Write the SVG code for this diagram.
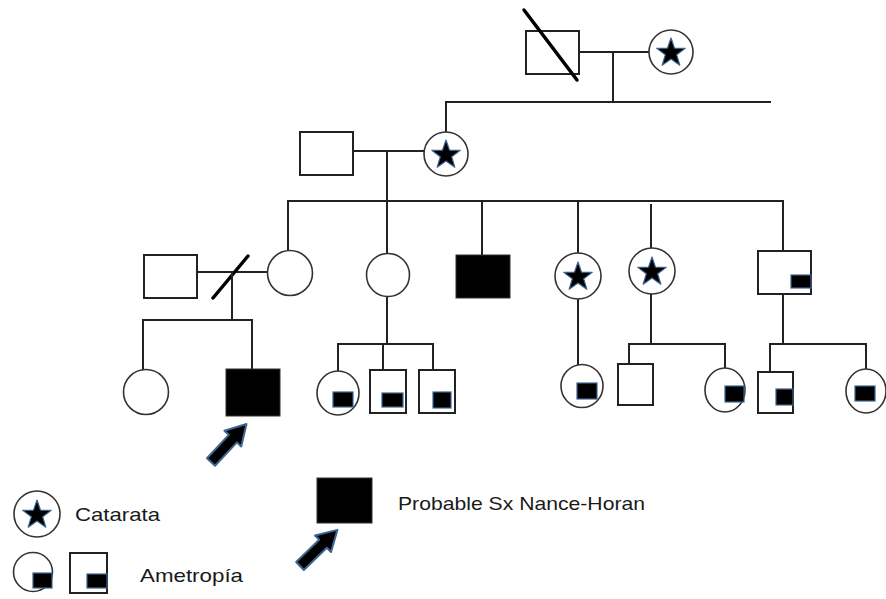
<svg xmlns="http://www.w3.org/2000/svg" width="886" height="599" viewBox="0 0 886 599">
<defs>
<style>
.ln{stroke:#222;stroke-width:2;fill:none;stroke-linecap:square}
.sq{fill:#fff;stroke:#222;stroke-width:2}
.ci{fill:#fff;stroke:#333;stroke-width:1.6}
.fill{fill:#000;stroke:#333;stroke-width:1}
.mk{fill:#000;stroke:#3c6590;stroke-width:1.2}
.star{fill:#000;stroke:#3c6590;stroke-width:1.2;stroke-linejoin:round}
.slash{stroke:#000;stroke-width:3.5;stroke-linecap:round}
.arr{fill:#000;stroke:#3c6590;stroke-width:2;stroke-linejoin:round}
.tx{font-family:"Liberation Sans",Arial,sans-serif;font-size:19px;fill:#1a1a1a}
</style>
<path id="star" d="M0,-15 L3.5,-4.85 L14.27,-4.64 L5.7,1.85 L8.82,12.14 L0,6 L-8.82,12.14 L-5.7,1.85 L-14.27,-4.64 L-3.5,-4.85 Z"/>
<path id="arrow" d="M0,-5.5 L32,-5.5 L32,-11.5 L52,0 L32,11.5 L32,5.5 L0,5.5 Z"/>
</defs>
<rect width="886" height="599" fill="#fff"/>

<g id="connectors">
<line class="ln" x1="579" y1="52" x2="649" y2="52"/>
<line class="ln" x1="613" y1="52" x2="613" y2="102"/>
<line class="ln" x1="447" y1="102" x2="770" y2="102"/>
<line class="ln" x1="446" y1="102" x2="446" y2="132"/>
<line class="ln" x1="353" y1="151" x2="424" y2="151"/>
<line class="ln" x1="387" y1="151" x2="387" y2="201"/>
<line class="ln" x1="288" y1="201" x2="783" y2="201"/>
<line class="ln" x1="288" y1="201" x2="288" y2="251"/>
<line class="ln" x1="387" y1="201" x2="387" y2="253"/>
<line class="ln" x1="482" y1="201" x2="482" y2="255"/>
<line class="ln" x1="578" y1="201" x2="578" y2="253"/>
<line class="ln" x1="651" y1="205" x2="651" y2="248"/>
<line class="ln" x1="783" y1="201" x2="783" y2="251"/>
<line class="ln" x1="197" y1="272" x2="268" y2="272"/>
<line class="slash" x1="213" y1="298" x2="248" y2="256"/>
<line class="ln" x1="232" y1="272" x2="232" y2="320"/>
<line class="ln" x1="143" y1="320" x2="252" y2="320"/>
<line class="ln" x1="143" y1="320" x2="143" y2="370"/>
<line class="ln" x1="252" y1="320" x2="252" y2="369"/>
<line class="ln" x1="387" y1="297" x2="387" y2="344"/>
<line class="ln" x1="338" y1="344" x2="433" y2="344"/>
<line class="ln" x1="338" y1="344" x2="338" y2="371"/>
<line class="ln" x1="383" y1="344" x2="383" y2="370"/>
<line class="ln" x1="433" y1="344" x2="433" y2="370"/>
<line class="ln" x1="578" y1="299" x2="578" y2="365"/>
<line class="ln" x1="651" y1="294" x2="651" y2="344"/>
<line class="ln" x1="629" y1="344" x2="725" y2="344"/>
<line class="ln" x1="629" y1="344" x2="629" y2="364"/>
<line class="ln" x1="725" y1="344" x2="725" y2="368"/>
<line class="ln" x1="783" y1="294" x2="783" y2="344"/>
<line class="ln" x1="770" y1="344" x2="866" y2="344"/>
<line class="ln" x1="770" y1="344" x2="770" y2="372"/>
<line class="ln" x1="866" y1="344" x2="866" y2="369"/>
</g>

<g id="I1">
<rect class="sq" x="526" y="31" width="53" height="43"/>
<line class="slash" x1="524" y1="10" x2="577" y2="80"/>
</g>
<g id="I2">
<circle class="ci" cx="671" cy="52" r="22"/>
<use href="#star" class="star" transform="translate(671,53)"/>
</g>

<g id="II1"><rect class="sq" x="300" y="132" width="53" height="43"/></g>
<g id="II2">
<circle class="ci" cx="446" cy="154" r="22"/>
<use href="#star" class="star" transform="translate(446,155)"/>
</g>

<g id="III-spouse"><rect class="sq" x="144" y="255" width="53" height="43"/></g>
<g id="III1"><circle class="ci" cx="290" cy="273" r="22.5"/></g>
<g id="III2"><circle class="ci" cx="388" cy="275" r="21.5"/></g>
<g id="III3"><rect class="fill" x="456" y="255" width="54" height="43"/></g>
<g id="III4">
<circle class="ci" cx="578" cy="276" r="23"/>
<use href="#star" class="star" transform="translate(578,277)"/>
</g>
<g id="III5">
<circle class="ci" cx="652" cy="271" r="23"/>
<use href="#star" class="star" transform="translate(652,272)"/>
</g>
<g id="III6">
<rect class="sq" x="758" y="251" width="53" height="43"/>
<rect class="mk" x="791" y="275" width="20" height="13"/>
</g>

<g id="IV1"><circle class="ci" cx="146" cy="392" r="22.5"/></g>
<g id="IV2">
<rect class="fill" x="226" y="369" width="54" height="47"/>
<use href="#arrow" class="arr" transform="translate(211,462) rotate(-47)"/>
</g>
<g id="IV3">
<ellipse class="ci" cx="338" cy="393" rx="21" ry="22"/>
<rect class="mk" x="333" y="392" width="20" height="15"/>
</g>
<g id="IV4">
<rect class="sq" x="370" y="370" width="36" height="43"/>
<rect class="mk" x="382" y="393" width="21" height="14"/>
</g>
<g id="IV5">
<rect class="sq" x="419" y="370" width="36" height="43"/>
<rect class="mk" x="433" y="392" width="18" height="16"/>
</g>
<g id="IV6">
<ellipse class="ci" cx="582" cy="386" rx="21" ry="21.5"/>
<rect class="mk" x="577" y="383" width="20" height="16"/>
</g>
<g id="IV7"><rect class="sq" x="618" y="364" width="35" height="41"/></g>
<g id="IV8">
<ellipse class="ci" cx="725" cy="390" rx="20" ry="22"/>
<rect class="mk" x="725" y="386" width="19" height="16"/>
</g>
<g id="IV9">
<rect class="sq" x="758" y="372" width="35" height="41"/>
<rect class="mk" x="776" y="389" width="17" height="16"/>
</g>
<g id="IV10">
<ellipse class="ci" cx="866" cy="391" rx="20" ry="22"/>
<rect class="mk" x="855" y="386" width="20" height="15"/>
</g>

<g id="legend">
<circle class="ci" cx="37" cy="514" r="23"/>
<use href="#star" class="star" transform="translate(37,515)"/>
<text class="tx" x="75" y="521" textLength="85" lengthAdjust="spacingAndGlyphs">Catarata</text>
<circle class="ci" cx="33" cy="572" r="19.5"/>
<rect class="mk" x="33" y="573" width="19" height="15"/>
<rect class="sq" x="70" y="553" width="37" height="40"/>
<rect class="mk" x="87" y="574" width="20" height="14"/>
<text class="tx" x="140" y="582" textLength="103" lengthAdjust="spacingAndGlyphs">Ametropía</text>
<rect class="fill" x="317" y="478" width="55" height="45"/>
<use href="#arrow" class="arr" transform="translate(300,566) rotate(-44)"/>
<text class="tx" x="398" y="510" textLength="247" lengthAdjust="spacingAndGlyphs">Probable Sx Nance-Horan</text>
</g>
</svg>
